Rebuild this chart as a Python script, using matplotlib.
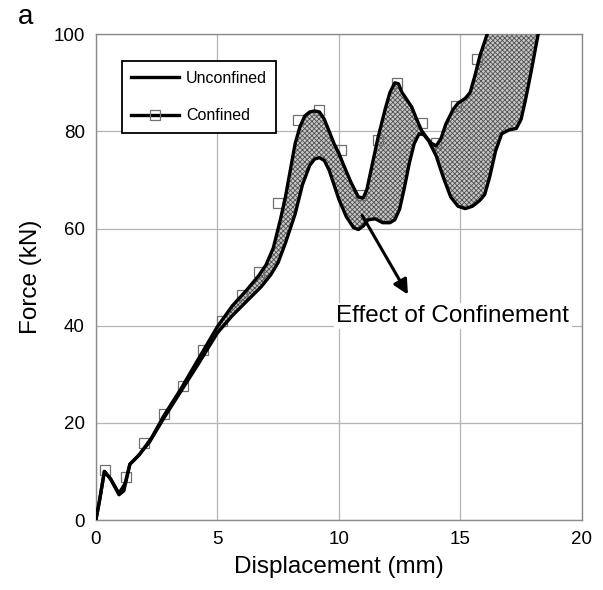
import numpy as np
import matplotlib.pyplot as plt
from matplotlib.lines import Line2D

plt.rcParams['font.family'] = ['Liberation Sans', 'DejaVu Sans']

# Unconfined curve (mm, kN)
unconf_x = [0, 0.15, 0.35, 0.6, 0.95, 1.15, 1.4, 1.7, 2.2, 2.8, 3.5, 4.2, 5.0, 5.6, 6.2, 6.8,
            7.2, 7.5, 7.8, 8.0, 8.2, 8.5, 8.8, 9.0, 9.2, 9.4, 9.6, 9.8, 10.0, 10.3, 10.6,
            10.8, 11.0, 11.2, 11.5, 11.8, 12.1, 12.3, 12.5, 12.7, 12.9, 13.1, 13.3, 13.5,
            13.7, 14.0, 14.3, 14.6, 14.9, 15.2, 15.5, 15.8, 16.0, 16.2, 16.45, 16.7, 17.0,
            17.3, 17.5, 17.7, 17.9, 18.05, 18.2]
unconf_y = [0, 4, 10, 8.5, 5.2, 6, 11.5, 13, 16, 21, 26.5, 32, 38.5, 42, 45, 48,
            50.5, 53, 57, 60, 63, 69, 73, 74.3, 74.6, 74, 72, 69, 66, 62.5, 60.2,
            59.8, 60.5, 61.8, 62, 61.2, 61.2, 61.8, 64, 68.5, 73.5, 77.5, 79.5, 79.3,
            78, 75, 70.5, 66.5, 64.6, 64.1, 64.6, 65.8, 67, 70.5, 76, 79.5, 80.3,
            80.6, 82.5, 87, 92, 96, 100]

# Confined curve
conf_x = [0, 0.15, 0.35, 0.6, 0.95, 1.2, 1.4, 1.8, 2.3, 2.8, 3.5, 4.2, 5.0, 5.6, 6.2, 6.7,
          7.0, 7.3, 7.6, 7.8, 8.0, 8.2, 8.4, 8.6, 8.8, 9.0, 9.2, 9.4, 9.6, 9.8, 10.0,
          10.2, 10.5, 10.8, 11.0, 11.15, 11.3, 11.6, 11.9, 12.1, 12.3, 12.45, 12.6, 12.8,
          13.0, 13.2, 13.4, 13.6, 13.8, 14.0, 14.2, 14.4, 14.7, 14.9, 15.2, 15.4, 15.6,
          15.8, 16.1]
conf_y = [0, 4, 10, 8.5, 5.5, 7.5, 11.5, 13.5, 17, 21.5, 27, 33, 39.8, 44, 47.3, 50.3,
          52.5, 56, 62, 66.5, 72, 77.5, 81, 83.2, 84, 84.2, 84, 82.5, 80, 77.5, 75.5,
          73, 69.5, 66.5, 66.3, 68, 71.5, 78.5, 84.5, 88, 90, 89.8, 88, 86.5,
          85, 82.5, 80.2, 78.8, 77.6, 77, 78.5, 81.5, 84.5, 85.8, 86.8, 88, 91.5,
          95.5, 100]

# Confined measurement markers
mark_x = [0.37, 1.25, 2.0, 2.8, 3.6, 4.4, 5.2, 6.0, 6.7, 7.5, 8.3, 9.2, 10.1, 10.9, 11.6,
          12.4, 13.4, 14.0, 14.8, 15.7]
mark_y = [10.3, 8.8, 15.9, 21.8, 27.5, 35, 41, 46.3, 51, 65.3, 82.4, 84.5, 76.2, 67, 78.3,
          90, 81.8, 77.7, 85.3, 94.8]

fig = plt.figure(figsize=(6.03, 5.90), dpi=100)
ax = fig.add_axes([0.159, 0.1186, 0.806, 0.8234])

# shaded band between the two curves
poly_x = np.concatenate([unconf_x, conf_x[::-1]])
poly_y = np.concatenate([unconf_y, conf_y[::-1]])
plt.rcParams['hatch.linewidth'] = 0.6
ax.fill(poly_x, poly_y, facecolor='#c8c8c8', edgecolor='#505050', hatch='xxxxxxx',
        linewidth=0, zorder=2)

ax.plot(mark_x, mark_y, linestyle='none', marker='s', markersize=7,
        markerfacecolor='none', markeredgecolor='#707070', markeredgewidth=0.9, zorder=2.5)
ax.plot(unconf_x, unconf_y, color='black', linewidth=2.4, zorder=3,
        solid_joinstyle='round')
ax.plot(conf_x, conf_y, color='black', linewidth=2.4, zorder=3,
        solid_joinstyle='round')

ax.set_xlim(0, 20)
ax.set_ylim(0, 100)
ax.set_xticks([0, 5, 10, 15, 20])
ax.set_yticks([0, 20, 40, 60, 80, 100])
ax.grid(True, color='#b4b4b4', linewidth=0.9)
ax.set_axisbelow(True)
ax.tick_params(length=0, labelsize=13.5, pad=8)
for s in ax.spines.values():
    s.set_color('#8a8a8a')
    s.set_linewidth(1.0)

ax.set_xlabel('Displacement (mm)', fontsize=17.5, labelpad=6)
ax.set_ylabel('Force (kN)', fontsize=17.5, labelpad=8)

ax.annotate('', xy=(12.9, 45.9), xytext=(10.9, 63.2),
            arrowprops=dict(arrowstyle='-|>', color='black', lw=2.2, mutation_scale=22),
            zorder=4)
ax.text(9.9, 42.0, 'Effect of Confinement', fontsize=17.5, ha='left', va='center',
        bbox=dict(facecolor='white', edgecolor='none', pad=1.5), zorder=4)

handles = [Line2D([], [], color='black', linewidth=2.4),
           Line2D([], [], color='black', linewidth=2.4, marker='s', markersize=7,
                  markerfacecolor='none', markeredgecolor='#707070', markeredgewidth=0.9)]
leg = ax.legend(handles, ['Unconfined', 'Confined'], loc='upper left',
                bbox_to_anchor=(0.0535, 0.944), borderaxespad=0, fontsize=11.5,
                handlelength=3.0, handletextpad=0.4, labelspacing=1.4, borderpad=0.6,
                fancybox=False, framealpha=1, edgecolor='black')
leg.get_frame().set_linewidth(1.3)

fig.text(0.043, 0.971, 'a', fontsize=20, ha='center', va='center')

fig.savefig('out.png', dpi=100)
